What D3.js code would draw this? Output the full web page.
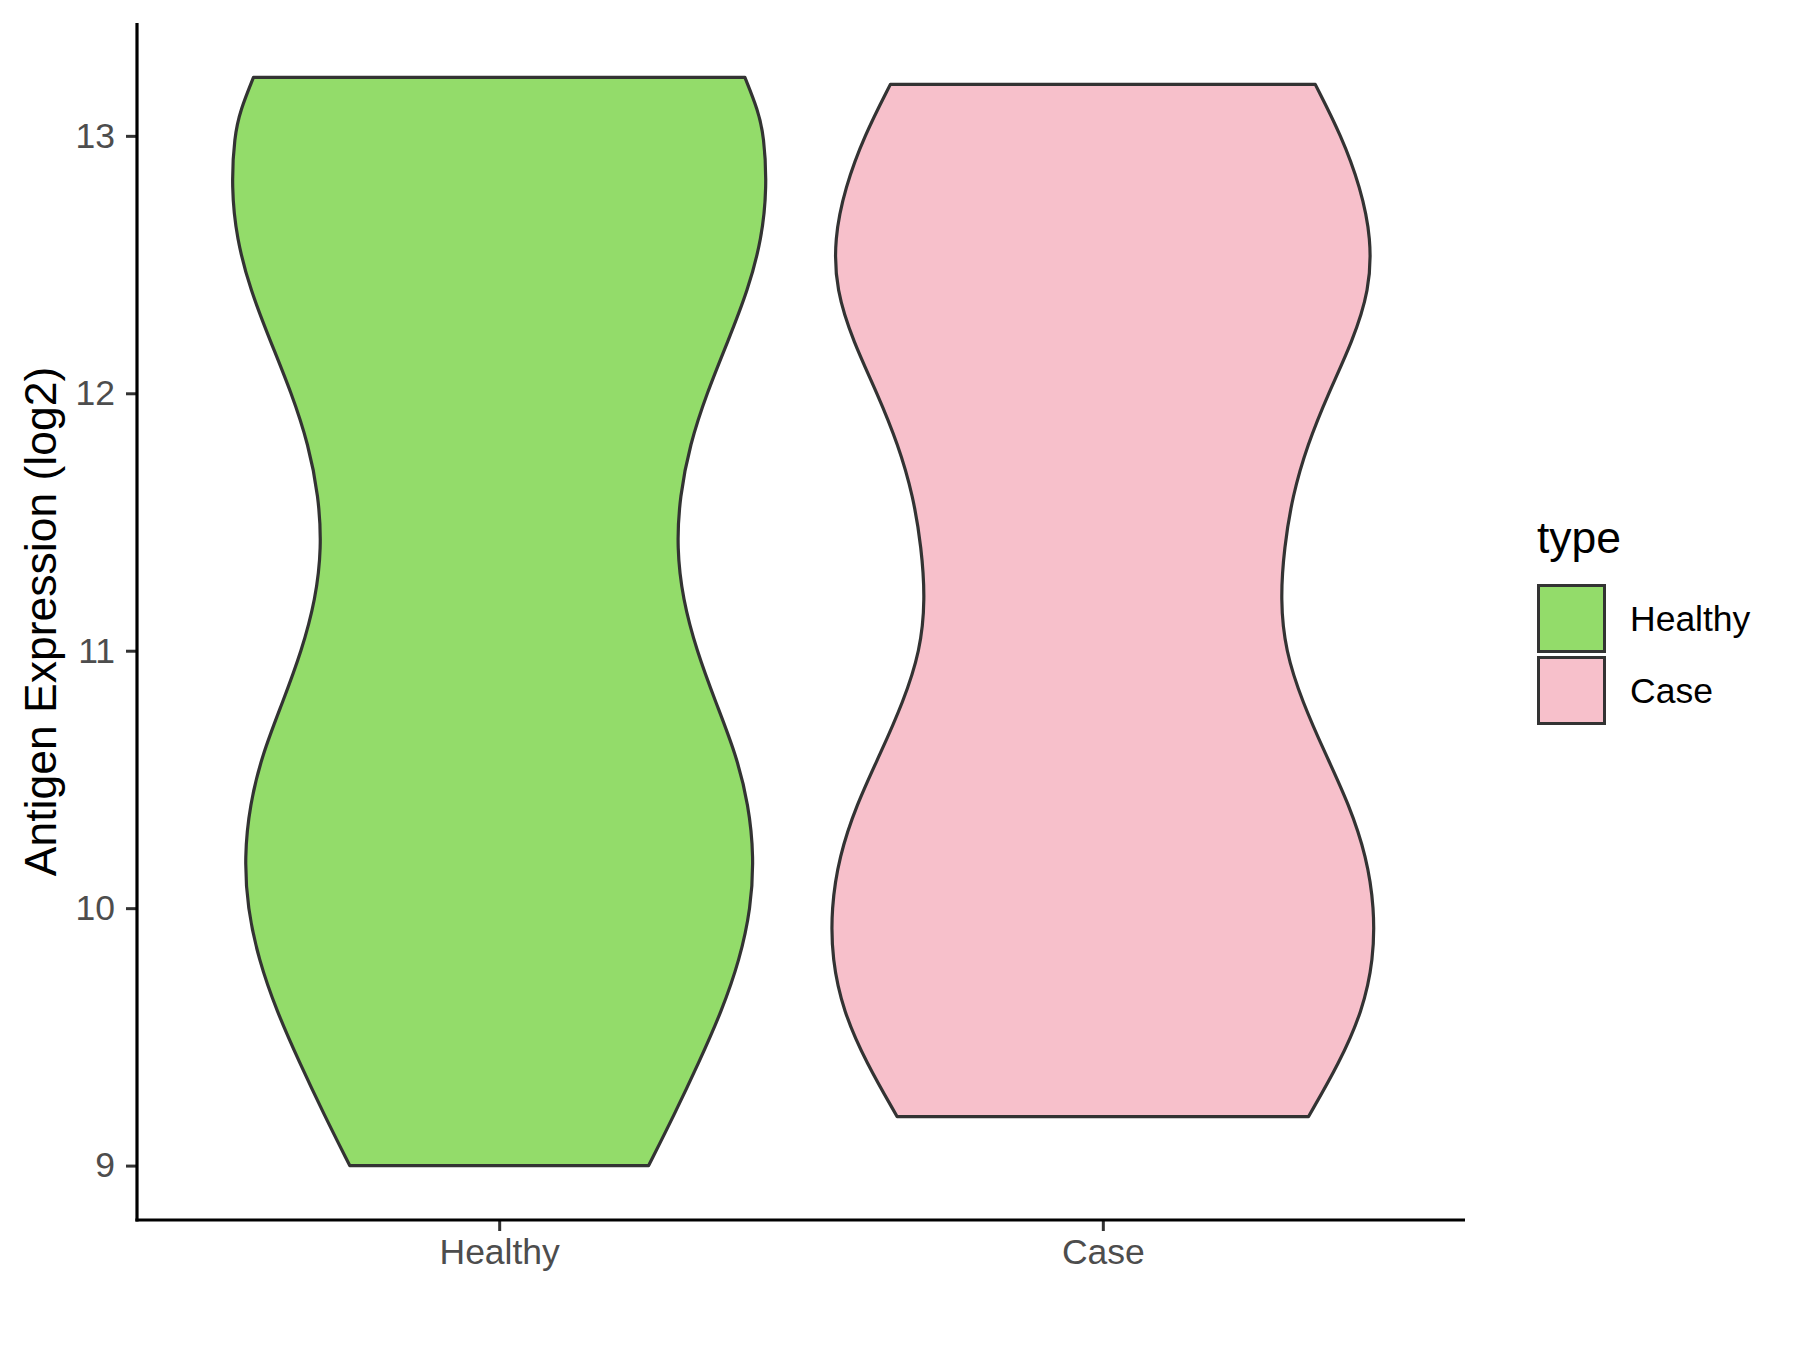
<!DOCTYPE html>
<html>
<head>
<meta charset="utf-8">
<script src="https://cdn.jsdelivr.net/npm/d3@7"></script>
<style>
  body { margin: 0; background: #fff; }
  svg { display: block; }
  text { font-family: "Liberation Sans", Arial, sans-serif; }
</style>
</head>
<body>
<svg id="chart"></svg>
<script>
// groups in draw order
const groups = ["Healthy", "Case"];
const fills = ["#93DC6A", "#F7C0CB"];

// density outline per group (value -> relative density)
const healthyValues = [13.227, 13.1, 13.0, 12.8, 12.6, 12.4, 12.2, 12.0, 11.8, 11.6, 11.4, 11.2, 11.0, 10.8, 10.6, 10.4, 10.2, 10.0, 9.8, 9.6, 9.4, 9.2, 9.0];
const healthyDensity = [0.901, 0.949, 0.971, 0.982, 0.963, 0.912, 0.838, 0.761, 0.699, 0.662, 0.651, 0.673, 0.724, 0.794, 0.868, 0.915, 0.934, 0.923, 0.882, 0.816, 0.732, 0.643, 0.548];

const caseValues = [13.2, 13.0, 12.8, 12.6, 12.4, 12.2, 12.0, 11.8, 11.6, 11.4, 11.2, 11.0, 10.8, 10.6, 10.4, 10.2, 10.0, 9.8, 9.6, 9.4, 9.19];
const caseDensity = [0.779, 0.875, 0.945, 0.985, 0.978, 0.915, 0.827, 0.750, 0.695, 0.665, 0.651, 0.669, 0.732, 0.816, 0.904, 0.967, 0.996, 0.993, 0.952, 0.868, 0.754];

const yTicks = [9, 10, 11, 12, 13];
const yTitle = "Antigen Expression (log2)";
const legendTitle = "type";

const width = 1800, height = 1350;
const margin = { left: 137, right: 335, top: 23, bottom: 130 };

const svg = d3.select("#chart")
    .attr("width", width)
    .attr("height", height);

const series = [
    { name: groups[0], fill: fills[0], pts: healthyValues.map((v, i) => ({ v: v, d: healthyDensity[i] })) },
    { name: groups[1], fill: fills[1], pts: caseValues.map((v, i) => ({ v: v, d: caseDensity[i] })) }
];

// y domain like ggplot: data range + 5% each side
const allV = healthyValues.concat(caseValues);
const [vmin, vmax] = d3.extent(allV);
const pad = (vmax - vmin) * 0.05;

const y = d3.scaleLinear()
    .domain([vmin - pad, vmax + pad])
    .range([height - margin.bottom, margin.top]);

// discrete x with 0.6 expansion on each side
const x = d3.scalePoint()
    .domain(groups)
    .range([margin.left, width - margin.right])
    .padding(0.6);

// widest violin takes 0.9 of a category step
const maxD = d3.max(healthyDensity.concat(caseDensity));
const w = d3.scaleLinear().domain([0, maxD]).range([0, x.step() * 0.45]);

// violins
const area = d3.area()
    .y(d => y(d.v))
    .curve(d3.curveBasis);

svg.append("g").selectAll("path")
    .data(series)
    .join("path")
    .attr("d", s => area
        .x0(d => x(s.name) - w(d.d))
        .x1(d => x(s.name) + w(d.d))(s.pts))
    .attr("fill", s => s.fill)
    .attr("stroke", "#333333")
    .attr("stroke-width", 3.2)
    .attr("stroke-linejoin", "round");

// axes
const yAxis = d3.axisLeft(y).tickValues(yTicks).tickFormat(d3.format("d")).tickSize(11).tickPadding(11);
const xAxis = d3.axisBottom(x).tickSize(11).tickPadding(8);

const gy = svg.append("g")
    .attr("transform", `translate(${margin.left},0)`)
    .call(yAxis);
const gx = svg.append("g")
    .attr("transform", `translate(0,${height - margin.bottom})`)
    .call(xAxis);

[gy, gx].forEach(g => {
    g.select(".domain").remove();
    g.selectAll(".tick line").attr("stroke", "#333333").attr("stroke-width", 3);
    g.selectAll(".tick text")
        .attr("fill", "#4D4D4D")
        .style("font-size", "35.5px")
        .style("font-family", "'Liberation Sans', Arial, sans-serif");
});

// axis lines (black, drawn over ticks)
svg.append("line")
    .attr("x1", margin.left).attr("x2", margin.left)
    .attr("y1", margin.top).attr("y2", height - margin.bottom + 1.6)
    .attr("stroke", "#000").attr("stroke-width", 3.2);
svg.append("line")
    .attr("x1", margin.left - 1.6).attr("x2", width - margin.right)
    .attr("y1", height - margin.bottom).attr("y2", height - margin.bottom)
    .attr("stroke", "#000").attr("stroke-width", 3.2);

// y title
svg.append("text")
    .attr("transform", `translate(56,${(margin.top + height - margin.bottom) / 2}) rotate(-90)`)
    .attr("text-anchor", "middle")
    .style("font-size", "44.5px")
    .attr("fill", "#000")
    .text(yTitle);

// legend
const legend = svg.append("g").attr("transform", "translate(1537,0)");
legend.append("text")
    .attr("x", 0).attr("y", 553)
    .style("font-size", "44.5px")
    .text(legendTitle);

const key = 69;
const items = legend.selectAll("g.item")
    .data(series)
    .join("g")
    .attr("class", "item")
    .attr("transform", (d, i) => `translate(0,${584 + i * (key + 3)})`);

items.append("rect")
    .attr("x", 1.5).attr("y", 1.5)
    .attr("width", key - 3).attr("height", key - 3)
    .attr("fill", d => d.fill)
    .attr("stroke", "#333333")
    .attr("stroke-width", 3);

items.append("text")
    .attr("x", 93).attr("y", key / 2)
    .attr("dy", "0.35em")
    .style("font-size", "35.5px")
    .text(d => d.name);
</script>
</body>
</html>
